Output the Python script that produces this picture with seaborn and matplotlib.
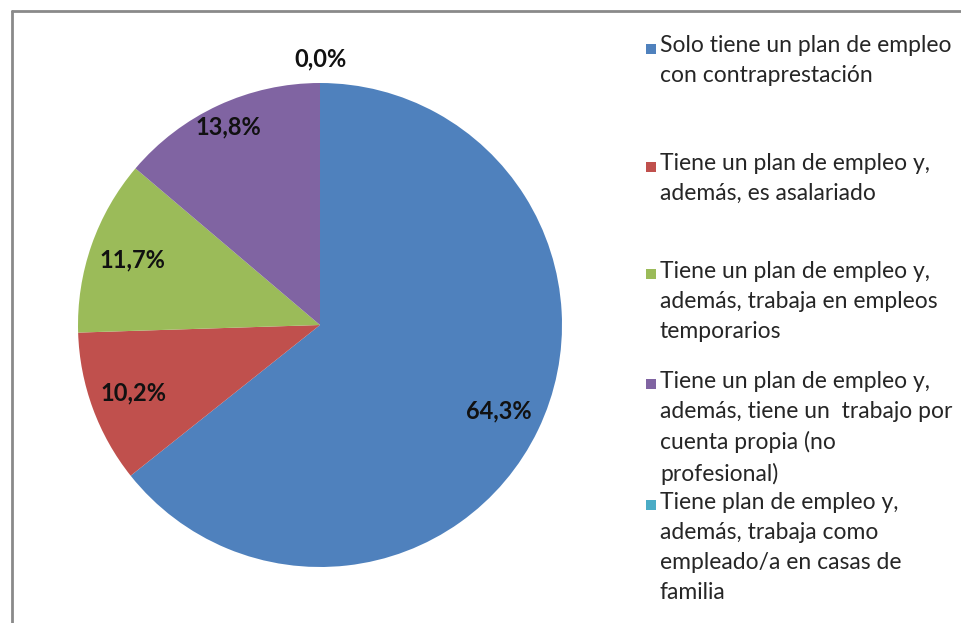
import matplotlib
matplotlib.use("Agg")
import matplotlib.pyplot as plt
from matplotlib.lines import Line2D
from matplotlib.patches import Rectangle
import numpy as np
import seaborn as sns

# ---- data ----
categories = [
    "Solo tiene un plan de empleo\ncon contraprestación",
    "Tiene un plan de empleo y,\nademás, es asalariado",
    "Tiene un plan de empleo y,\nademás, trabaja en empleos\ntemporarios",
    "Tiene un plan de empleo y,\nademás, tiene un  trabajo por\ncuenta propia (no\nprofesional)",
    "Tiene plan de empleo y,\nademás, trabaja como\nempleado/a en casas de\nfamilia",
]
values = [64.3, 10.2, 11.7, 13.8, 0.0]
colors = ["#4F81BD", "#C0504D", "#9BBB59", "#8064A2", "#4BACC6"]
label_radius = [0.82, 0.82, 0.82, 0.90, 1.10]

sns.set_theme(style="white")
plt.rcParams["font.family"] = ["Lato", "DejaVu Sans"]

W, H = 962, 623
fig = plt.figure(figsize=(W / 100, H / 100), dpi=100)
fig.patch.set_facecolor("white")

# pie axes: center (320,325) px, radius 242 px, limits +-1.1
R = 242
half = 1.1 * R
ax = fig.add_axes([(320 - half) / W, (H - 325 - half) / H, 2 * half / W, 2 * half / H])
wedges, _ = ax.pie(values, colors=colors, startangle=90, counterclock=False,
                   wedgeprops=dict(linewidth=0))
ax.set_xlim(-1.1, 1.1)
ax.set_ylim(-1.1, 1.1)
ax.set_aspect("equal")
ax.axis("off")

for w, v, r in zip(wedges, values, label_radius):
    ang = np.deg2rad((w.theta1 + w.theta2) / 2)
    ax.text(r * np.cos(ang), r * np.sin(ang), f"{v:.1f}".replace(".", ",") + "%",
            ha="center", va="center", fontsize=17, fontweight="bold", color="#111111")

# legend (entries evenly spaced by center, like the original)
centers = [63, 181, 304, 429, 550]
line_px = 30.5
for cat, col, c in zip(categories, colors, centers):
    n = cat.count("\n") + 1
    top = c - n * line_px / 2
    fig.text(660 / W, 1 - (top + 3) / H, cat, ha="left", va="top", fontsize=16.5,
             color="#262626", linespacing=1.52)
    sq = 10
    y0 = top + line_px / 2 + 1
    fig.add_artist(Rectangle((646 / W, 1 - (y0 + sq / 2) / H), sq / W, sq / H,
                             transform=fig.transFigure, facecolor=col, edgecolor="none"))

# outer frame (left and top edges visible)
fig.add_artist(Line2D([12 / W, 12 / W], [0, 1 - 11 / H], transform=fig.transFigure,
                      color="#8a8a8a", linewidth=2))
fig.add_artist(Line2D([12 / W, 1], [1 - 11 / H, 1 - 11 / H], transform=fig.transFigure,
                      color="#8a8a8a", linewidth=2))

fig.savefig("out.png", dpi=100, facecolor="white")
